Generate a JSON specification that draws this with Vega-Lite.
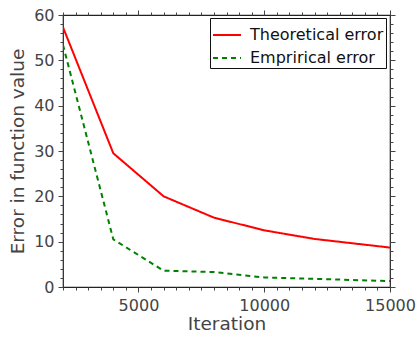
{
  "$schema": "https://vega.github.io/schema/vega-lite/v6.json",
  "width": 327,
  "height": 272,
  "autosize": {"type": "none"},
  "padding": {"left": 63, "top": 15, "right": 28, "bottom": 50},
  "config": {
    "view": {"stroke": "#222", "strokeWidth": 1.2},
    "font": "DejaVu Sans",
    "axis": {"grid": false, "domain": false, "tickColor": "#444", "tickWidth": 1, "labelColor": "#444", "labelFontSize": 16, "titleFontSize": 18.5, "titleColor": "#444", "titleFontWeight": "normal", "labelFlush": false, "labelOverlap": false}
  },
  "data": {"values": [
    {"it": 2000, "err": 57.3, "series": "Theoretical error"},
    {"it": 4000, "err": 29.5, "series": "Theoretical error"},
    {"it": 6000, "err": 20.0, "series": "Theoretical error"},
    {"it": 8000, "err": 15.3, "series": "Theoretical error"},
    {"it": 10000, "err": 12.5, "series": "Theoretical error"},
    {"it": 12000, "err": 10.6, "series": "Theoretical error"},
    {"it": 15000, "err": 8.7, "series": "Theoretical error"},
    {"it": 2000, "err": 53.4, "series": "Emprirical error"},
    {"it": 4000, "err": 10.5, "series": "Emprirical error"},
    {"it": 6000, "err": 3.6, "series": "Emprirical error"},
    {"it": 8000, "err": 3.3, "series": "Emprirical error"},
    {"it": 10000, "err": 2.1, "series": "Emprirical error"},
    {"it": 12000, "err": 1.8, "series": "Emprirical error"},
    {"it": 15000, "err": 1.3, "series": "Emprirical error"}
  ]},
  "layer": [
    {
      "mark": {"type": "line", "strokeWidth": 2, "clip": true},
      "encoding": {
        "x": {"field": "it", "type": "quantitative", "scale": {"domain": [2000, 15000], "nice": false},
          "axis": {"orient": "bottom", "title": "Iteration", "format": "d", "values": [2000,2500,3000,3500,4000,4500,5000,5500,6000,6500,7000,7500,8000,8500,9000,9500,10000,10500,11000,11500,12000,12500,13000,13500,14000,14500,15000],
            "labelExpr": "datum.value % 5000 === 0 ? datum.label : ''",
            "tickSize": {"condition": {"test": "datum.value % 5000 === 0", "value": 5}, "value": 3},
            "labelPadding": 5, "titlePadding": 1}},
        "y": {"field": "err", "type": "quantitative", "scale": {"domain": [0, 60], "nice": false},
          "axis": {"orient": "left", "title": "Error in function value", "values": [0,2,4,6,8,10,12,14,16,18,20,22,24,26,28,30,32,34,36,38,40,42,44,46,48,50,52,54,56,58,60],
            "labelExpr": "datum.value % 10 === 0 ? datum.label : ''",
            "tickSize": {"condition": {"test": "datum.value % 10 === 0", "value": 5}, "value": 3},
            "labelPadding": 4, "titlePadding": 6}},
        "color": {"field": "series", "type": "nominal", "sort": ["Theoretical error", "Emprirical error"],
          "scale": {"domain": ["Theoretical error", "Emprirical error"], "range": ["#ff0000", "#008000"]},
          "legend": {"title": null, "orient": "none", "legendX": 147, "legendY": 3, "symbolType": "stroke", "symbolSize": 784, "symbolStrokeWidth": 2, "labelFontSize": 16, "labelColor": "#111", "fillColor": "white", "strokeColor": "#111", "padding": 2, "labelOffset": 8, "rowPadding": -4}},
        "strokeDash": {"field": "series", "type": "nominal", "sort": ["Theoretical error", "Emprirical error"],
          "scale": {"domain": ["Theoretical error", "Emprirical error"], "range": [[1, 0], [5, 4]]},
          "legend": {"title": null, "orient": "none", "legendX": 147, "legendY": 3, "symbolType": "stroke", "symbolSize": 784, "symbolStrokeWidth": 2, "labelFontSize": 16, "labelColor": "#111", "fillColor": "white", "strokeColor": "#111", "padding": 2, "labelOffset": 8, "rowPadding": -4}}
      }
    },
    {
      "mark": {"type": "point", "opacity": 0},
      "encoding": {
        "x": {"field": "it", "type": "quantitative", "scale": {"domain": [2000, 15000], "nice": false},
          "axis": {"orient": "top", "title": null, "labels": false, "values": [2000,2500,3000,3500,4000,4500,5000,5500,6000,6500,7000,7500,8000,8500,9000,9500,10000,10500,11000,11500,12000,12500,13000,13500,14000,14500,15000],
            "tickSize": {"condition": {"test": "datum.value % 5000 === 0", "value": 5}, "value": 3}}},
        "y": {"field": "err", "type": "quantitative", "scale": {"domain": [0, 60], "nice": false},
          "axis": {"orient": "right", "title": null, "labels": false, "values": [0,2,4,6,8,10,12,14,16,18,20,22,24,26,28,30,32,34,36,38,40,42,44,46,48,50,52,54,56,58,60],
            "tickSize": {"condition": {"test": "datum.value % 10 === 0", "value": 5}, "value": 3}}}
      }
    }
  ],
  "resolve": {"axis": {"x": "independent", "y": "independent"}}
}
